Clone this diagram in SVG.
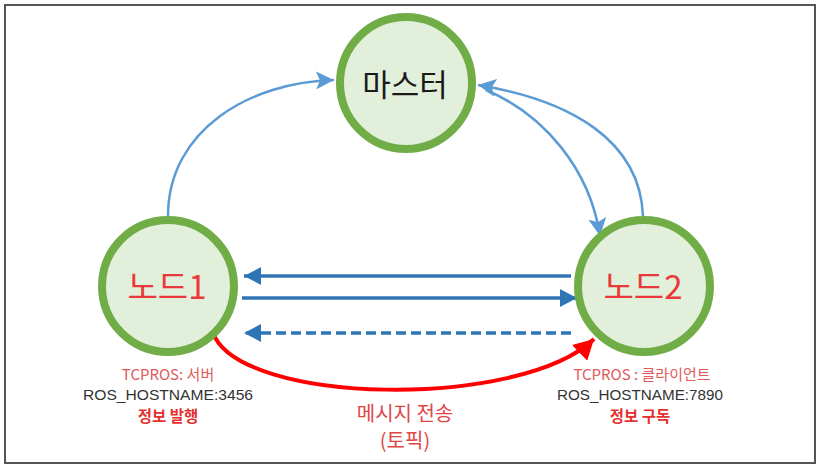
<svg xmlns="http://www.w3.org/2000/svg" width="821" height="472" viewBox="0 0 821 472">
<style>
.node{fill:#e2efda;stroke:#70ad47;stroke-width:8}
.big{font-family:"Noto Sans CJK KR","Noto Sans",sans-serif;font-size:33px;text-anchor:middle}
.sm{font-family:"Liberation Sans",Arial,sans-serif;font-size:15px;text-anchor:middle;fill:#333333}
.tc{font-family:"Noto Sans CJK KR","Noto Sans",sans-serif;font-size:15px;text-anchor:middle;fill:#e05a5a}
.bo{font-family:"Noto Sans CJK KR","Noto Sans",sans-serif;font-size:15.5px;font-weight:bold;text-anchor:middle;fill:#e53030}
.el{font-family:"Noto Sans CJK KR","Noto Sans",sans-serif;font-size:20px;text-anchor:middle;fill:#e04545}
.lb{fill:none;stroke:#5b9bd5;stroke-width:2.5}
.db{fill:none;stroke:#2e75b6;stroke-width:3.5}
</style>
<defs>
<marker id="al" markerUnits="userSpaceOnUse" markerWidth="20" markerHeight="18" refX="18" refY="9" orient="auto"><path d="M0,0 L18,9 L0,18 L4,9 Z" fill="#5b9bd5"/></marker>
<marker id="ad" markerUnits="userSpaceOnUse" markerWidth="18" markerHeight="18" refX="17" refY="9" orient="auto"><path d="M0,0 L17,9 L0,18 Z" fill="#2e75b6"/></marker>
<marker id="ar" markerUnits="userSpaceOnUse" markerWidth="22" markerHeight="22" refX="20" refY="11" orient="auto"><path d="M0,0 L20,11 L0,22 Z" fill="#ff0000"/></marker>
</defs>
<rect x="5" y="5" width="810" height="458" fill="#ffffff" stroke="#555555" stroke-width="2"/>
<g id="connectors">
<path class="lb" d="M168,216 C168,130 250,82 334,80" marker-end="url(#al)"/>
<path class="lb" d="M643,216 C640,140 570,100 478,85" marker-end="url(#al)"/>
<path class="lb" d="M486,90 C545,115 590,170 600,236" marker-end="url(#al)"/>
<path class="db" d="M571,276 L244,276" marker-end="url(#ad)"/>
<path class="db" d="M242,298 L577,298" marker-end="url(#ad)"/>
<path class="db" d="M571,333 L244,333" stroke-dasharray="10,5" marker-end="url(#ad)"/>
<path d="M213,333 C240,405 520,410 594,339" fill="none" stroke="#ff0000" stroke-width="4" marker-end="url(#ar)"/>
</g>
<g id="master">
<circle class="node" cx="406" cy="83" r="66"/>
<text class="big" x="405" y="96" fill="#1a1a1a" style="font-size:31px">마스터</text>
</g>
<g id="node1">
<circle class="node" cx="168" cy="286" r="66"/>
<text class="big" x="167" y="299" fill="#e83a3a">노드1</text>
<text class="tc" x="168" y="380">TCPROS: 서버</text>
<text class="sm" x="168" y="400" textLength="170" lengthAdjust="spacingAndGlyphs">ROS_HOSTNAME:3456</text>
<text class="bo" x="168" y="422">정보 발행</text>
</g>
<g id="node2">
<circle class="node" cx="644" cy="286" r="66"/>
<text class="big" x="643" y="299" fill="#e83a3a">노드2</text>
<text class="tc" x="642" y="380">TCPROS : 클라이언트</text>
<text class="sm" x="640" y="400" textLength="166" lengthAdjust="spacingAndGlyphs">ROS_HOSTNAME:7890</text>
<text class="bo" x="640" y="422">정보 구독</text>
</g>
<g id="edge-label">
<text class="el" x="405" y="421">메시지 전송</text>
<text class="el" x="405" y="448">(토픽)</text>
</g>
</svg>
